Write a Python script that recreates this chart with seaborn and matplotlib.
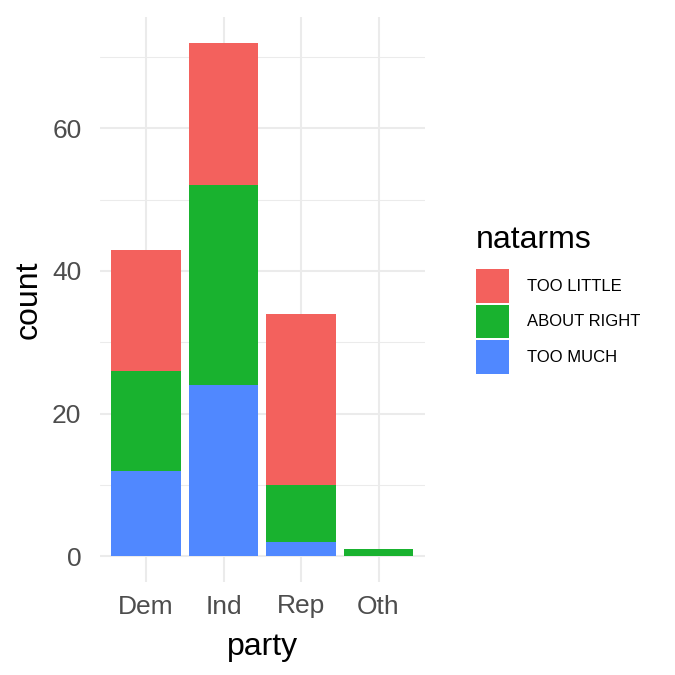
import seaborn as sns
import matplotlib.pyplot as plt
import pandas as pd

parties = ["Dem", "Ind", "Rep", "Oth"]
levels = ["TOO LITTLE", "ABOUT RIGHT", "TOO MUCH"]
too_little = [17, 20, 24, 0]
about_right = [14, 28, 8, 1]
too_much = [12, 24, 2, 0]
colors = ["#F3615D", "#19B22F", "#5088FF"]

rows = []
for lev, vals in zip(levels, [too_little, about_right, too_much]):
    for p, v in zip(parties, vals):
        rows.append({"party": p, "natarms": lev, "count": v})
df = pd.DataFrame(rows)
df["party"] = pd.Categorical(df["party"], categories=parties)

sns.set_theme(style="white")
plt.rcParams["font.family"] = ["Liberation Sans", "DejaVu Sans"]

fig = plt.figure(figsize=(6.75, 6.75), dpi=100)
ax = fig.add_axes([99.5 / 675, 1 - 582 / 675, (425 - 99.5) / 675, (582 - 17) / 675])

sns.histplot(data=df, x="party", weights="count", hue="natarms", hue_order=levels,
             multiple="stack", discrete=True, shrink=0.9, alpha=1, linewidth=0,
             palette=colors, ax=ax, zorder=3)

ax.set_xlim(-0.6, 3.6)
ax.set_ylim(-3.6, 75.6)
ax.set_yticks([0, 20, 40, 60])
ax.set_yticks([10, 30, 50, 70], minor=True)
ax.grid(which="major", color="#EBEBEB", lw=1.5, zorder=0)
ax.grid(which="minor", axis="y", color="#EBEBEB", lw=0.75, zorder=0)
ax.set_axisbelow(True)
sns.despine(ax=ax, left=True, bottom=True)
ax.tick_params(axis="both", which="both", length=0, labelsize=19, labelcolor="#4D4D4D")
ax.tick_params(axis="y", pad=13)
ax.tick_params(axis="x", pad=9)
ax.set_xlabel("party", fontsize=23, color="black", labelpad=10)
ax.set_ylabel("count", fontsize=23, color="black", labelpad=6)

sns.move_legend(ax, "upper left", bbox_to_anchor=(476 / 675, 1 - 269 / 675),
                bbox_transform=fig.transFigure, frameon=False, fontsize=12,
                title=None, handlelength=1.98,
                handleheight=2.72, labelspacing=0.12, handletextpad=1.08,
                borderpad=0, borderaxespad=0, labelcolor="black")
fig.text(476 / 675, 1 - 248 / 675, "natarms", fontsize=23, color="black", va="baseline")

fig.savefig("out.png", dpi=100)
